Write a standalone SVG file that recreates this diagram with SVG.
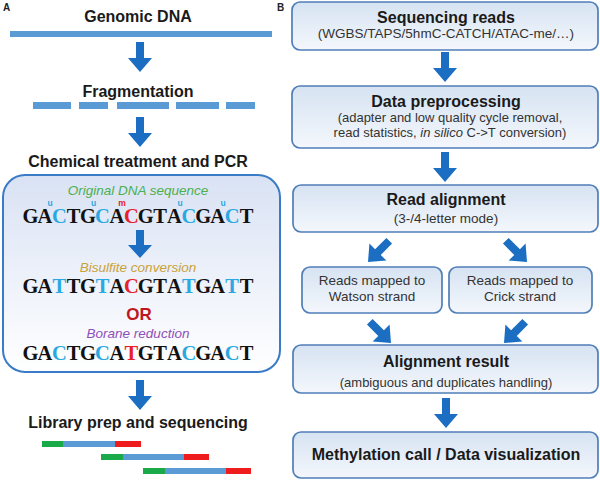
<svg xmlns="http://www.w3.org/2000/svg" xmlns:xlink="http://www.w3.org/1999/xlink" width="600" height="482" viewBox="0 0 600 482">
<style>
.lab{font-family:"Liberation Sans",Arial,sans-serif;font-weight:bold;font-size:10px;fill:#222}
.ttl{font-family:"Liberation Sans",Arial,sans-serif;font-weight:bold;font-size:16px;fill:#1a1a1a;text-anchor:middle}
.sub{font-family:"Liberation Sans",Arial,sans-serif;font-size:13px;fill:#333;text-anchor:middle}
.sm{font-family:"Liberation Sans",Arial,sans-serif;font-size:13.5px;fill:#333;text-anchor:middle}
.it{font-family:"Liberation Sans",Arial,sans-serif;font-style:italic;font-size:13.5px;text-anchor:middle}
.seq{font-family:"Liberation Serif","Times New Roman",serif;font-weight:bold;font-size:20.5px;fill:#111;text-anchor:middle}
.sup{font-family:"Liberation Sans",Arial,sans-serif;font-weight:bold;font-size:8.5px;text-anchor:middle}
.b{fill:#29a8e2}.r{fill:#e8202a}
.box{fill:url(#gb);stroke:#4f7fb8;stroke-width:1.7}
.arr{fill:#1b6ec2}
.dna{fill:#5b9bd5}
</style>
<defs>
<linearGradient id="gb" x1="0" y1="0" x2="0" y2="1">
<stop offset="0" stop-color="#d6e3f2"/><stop offset="1" stop-color="#f4f7fc"/>
</linearGradient>
<linearGradient id="gbig" x1="0" y1="0" x2="0" y2="1">
<stop offset="0" stop-color="#d9e2f4"/><stop offset="1" stop-color="#ffffff"/>
</linearGradient>
<path id="arrow" d="M-4,-30 H4 V-14 H12 L0,0 L-12,-14 H-4 Z"/>
</defs>
<rect width="600" height="482" fill="#ffffff"/>
<text class="lab" x="3" y="11">A</text>
<text class="lab" x="277" y="11">B</text>

<g id="genomic">
<text class="ttl" x="138" y="22">Genomic DNA</text>
<rect class="dna" x="10" y="31" width="262" height="6"/>
</g>
<g id="fragmentation">
<text class="ttl" x="138" y="97">Fragmentation</text>
<rect class="dna" x="33" y="102" width="38" height="7"/>
<rect class="dna" x="79" y="102" width="29" height="7"/>
<rect class="dna" x="117" y="102" width="52" height="7"/>
<rect class="dna" x="176" y="102" width="43" height="7"/>
<rect class="dna" x="226" y="102" width="29" height="7"/>
</g>
<g id="chemical">
<text class="ttl" x="138" y="167">Chemical treatment and PCR</text>
<rect x="3" y="175" width="277" height="197" rx="22" fill="url(#gbig)" stroke="#3a7bc8" stroke-width="2"/>
<text class="it" x="138" y="194.5" style="fill:#4caf50">Original DNA sequence</text>
<text class="sup" x="50" y="205.5" fill="#29a8e2">u</text>
<text class="sup" x="93.5" y="205.5" fill="#29a8e2">u</text>
<text class="sup" x="122" y="205.5" fill="#e8202a">m</text>
<text class="sup" x="180" y="205.5" fill="#29a8e2">u</text>
<text class="sup" x="223" y="205.5" fill="#29a8e2">u</text>
<text class="seq" x="30.5 44.9 59.3 73.7 88.1 102.5 116.9 131.3 145.7 160.1 174.5 188.9 203.3 217.7 232.1 246.5" y="223">GA<tspan class="b">C</tspan>TG<tspan class="b">C</tspan>A<tspan class="r">C</tspan>GTA<tspan class="b">C</tspan>GA<tspan class="b">C</tspan>T</text>
<text class="it" x="138" y="272" style="fill:#c9a23a">Bisulfite conversion</text>
<text class="seq" x="30.5 44.9 59.3 73.7 88.1 102.5 116.9 131.3 145.7 160.1 174.5 188.9 203.3 217.7 232.1 246.5" y="293">GA<tspan class="b">T</tspan>TG<tspan class="b">T</tspan>A<tspan class="r">C</tspan>GTA<tspan class="b">T</tspan>GA<tspan class="b">T</tspan>T</text>
<text x="139" y="320" text-anchor="middle" style="font-family:'Liberation Sans',Arial,sans-serif;font-weight:bold;font-size:17px;fill:#c0161e">OR</text>
<text class="it" x="138" y="338" style="fill:#8e4fb8">Borane reduction</text>
<text class="seq" x="30.5 44.9 59.3 73.7 88.1 102.5 116.9 131.3 145.7 160.1 174.5 188.9 203.3 217.7 232.1 246.5" y="360">GA<tspan class="b">C</tspan>TG<tspan class="b">C</tspan>A<tspan class="r">T</tspan>GTA<tspan class="b">C</tspan>GA<tspan class="b">C</tspan>T</text>
</g>
<g id="library">
<text class="ttl" x="138" y="428">Library prep and sequencing</text>
<rect x="42" y="441" width="21" height="6" fill="#1aaa4a"/><rect class="dna" x="63" y="441" width="52" height="6"/><rect x="115" y="441" width="26" height="6" fill="#ee1c1c"/>
<rect x="101" y="454" width="22" height="6" fill="#1aaa4a"/><rect class="dna" x="123" y="454" width="61" height="6"/><rect x="184" y="454" width="25" height="6" fill="#ee1c1c"/>
<rect x="143" y="468" width="22" height="6" fill="#1aaa4a"/><rect class="dna" x="165" y="468" width="61" height="6"/><rect x="226" y="468" width="25" height="6" fill="#ee1c1c"/>
</g>

<g id="seqreads">
<rect class="box" x="292" y="2" width="306" height="48" rx="8"/>
<text class="ttl" x="446" y="23">Sequencing reads</text>
<text class="sm" x="446" y="38">(WGBS/TAPS/5hmC-CATCH/ATAC-me/…)</text>
</g>
<g id="preproc">
<rect class="box" x="292" y="86" width="306" height="62" rx="8"/>
<text class="ttl" x="446" y="107">Data preprocessing</text>
<text class="sub" x="450" y="122">(adapter and low quality cycle removal,</text>
<text class="sub" x="450" y="137">read statistics, <tspan font-style="italic">in silico</tspan> C-&gt;T conversion)</text>
</g>
<g id="alignment">
<rect class="box" x="293" y="185" width="305" height="47" rx="8"/>
<text class="ttl" x="446" y="205">Read alignment</text>
<text class="sm" x="446" y="223">(3-/4-letter mode)</text>
</g>
<g id="watson">
<rect class="box" x="302" y="267" width="140" height="46" rx="8"/>
<text class="sm" x="372" y="285">Reads mapped to</text>
<text class="sm" x="372" y="301">Watson strand</text>
</g>
<g id="crick">
<rect class="box" x="449" y="267" width="143" height="46" rx="8"/>
<text class="sm" x="520" y="285">Reads mapped to</text>
<text class="sm" x="520" y="301">Crick strand</text>
</g>
<g id="result">
<rect class="box" x="293" y="345" width="305" height="48" rx="8"/>
<text class="ttl" x="446" y="367">Alignment result</text>
<text class="sub" x="446" y="387">(ambiguous and duplicates handling)</text>
</g>
<g id="methylation">
<rect class="box" x="293" y="432" width="305" height="46" rx="8"/>
<text class="ttl" x="446" y="460">Methylation call / Data visualization</text>
</g>

<g id="connectors" class="arr">
<use xlink:href="#arrow" transform="translate(140,72)"/>
<use xlink:href="#arrow" transform="translate(140,147)"/>
<use xlink:href="#arrow" transform="translate(140,258) scale(1,0.93)"/>
<use xlink:href="#arrow" transform="translate(140,410)"/>
<use xlink:href="#arrow" transform="translate(445,82)"/>
<use xlink:href="#arrow" transform="translate(445,182)"/>
<use xlink:href="#arrow" transform="translate(446,428)"/>
<use xlink:href="#arrow" transform="translate(368,262) rotate(45)"/>
<use xlink:href="#arrow" transform="translate(527,262) rotate(-45)"/>
<use xlink:href="#arrow" transform="translate(391,343) rotate(-45)"/>
<use xlink:href="#arrow" transform="translate(504,343) rotate(45)"/>
</g>
</svg>
